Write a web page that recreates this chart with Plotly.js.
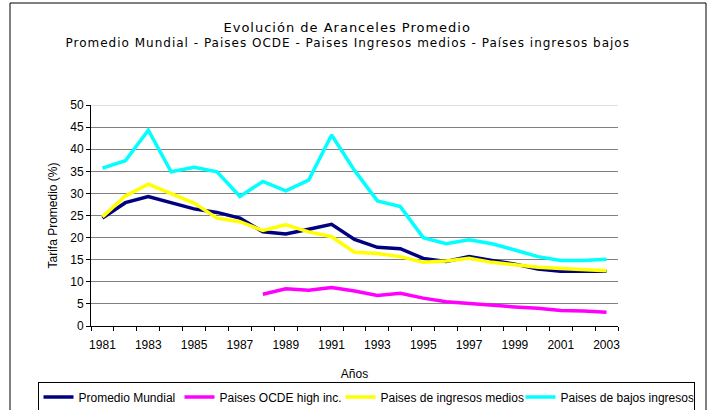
<!DOCTYPE html>
<html>
<head>
<meta charset="utf-8">
<script src="https://cdn.plot.ly/plotly-3.0.1.min.js"></script>
<style>html,body{margin:0;padding:0;background:#fff;}#chart{width:712px;height:410px;}
#chart .annotation-text{letter-spacing:1px;}</style>
</head>
<body>
<div id="chart"></div>
<script>
var years = [1981,1982,1983,1984,1985,1986,1987,1988,1989,1990,1991,1992,1993,1994,1995,1996,1997,1998,1999,2000,2001,2002,2003];
var tickYears = [1981,1983,1985,1987,1989,1991,1993,1995,1997,1999,2001,2003];
var promedioMundial = [24.4,27.9,29.3,27.9,26.5,25.7,24.4,21.3,20.8,21.9,23.0,19.6,17.8,17.5,15.3,14.6,15.7,14.8,14.0,12.9,12.4,12.4,12.4];
var ocdeHigh = [null,null,null,null,null,null,null,7.2,8.4,8.1,8.7,7.9,6.9,7.4,6.3,5.5,5.1,4.6,4.3,4.0,3.5,3.4,3.1];
var ingresosMedios = [24.7,29.4,32.1,30.0,27.8,24.4,23.6,21.6,22.9,21.3,20.2,16.7,16.4,15.7,14.4,14.7,15.3,14.4,13.8,13.3,13.0,12.7,12.5];
var bajosIngresos = [35.7,37.4,44.3,34.9,35.9,34.9,29.3,32.7,30.6,33.0,43.2,35.2,28.3,27.0,20.0,18.6,19.5,18.6,17.2,15.7,14.8,14.8,15.1];

var names = ['Promedio Mundial','Paises OCDE high inc.','Paises de ingresos medios','Paises de bajos ingresos'];
var colors = ['#000080','#ff00ff','#ffff00','#00ffff'];
var series = [promedioMundial, ocdeHigh, ingresosMedios, bajosIngresos];
var legendWidths = [96, 116, 135, 128];

var traces = series.map(function(s,i){
  return {x: years, y: s, name: names[i], type:'scatter', mode:'lines',
          line:{color:colors[i], width:3.5}, connectgaps:false, hoverinfo:'skip',
          legendwidth: legendWidths[i]};
});

var W=712, H=410;
var ML=0, MR=0;           // outer margins (plot "gs" area)
var L=91, R=618, T=105, B=326; // actual axis box
function px(x){return (x-ML)/(W-ML-MR);}
function py(y){return (B-y)/(B-T);}

var layout = {
  width:W, height:H,
  margin:{l:ML, r:MR, t:T, b:H-B, pad:0, autoexpand:false},
  paper_bgcolor:'#ffffff', plot_bgcolor:'#ffffff',
  font:{family:'Liberation Sans, Arial, sans-serif', size:12, color:'#000'},
  showlegend:true,
  xaxis:{
    domain:[px(L), px(R)],
    range:[years[0]-0.5, years[years.length-1]+0.5],
    tickmode:'array', tickvals:tickYears, ticktext:tickYears.map(String),
    ticks:'', showgrid:false, zeroline:false,
    showline:true, linecolor:'#000', linewidth:1,
    ticklabelstandoff:8,
    tickfont:{family:'Liberation Sans, Arial, sans-serif', size:12, color:'#000'},
    minor:{tick0:years[0]-0.5, dtick:1, ticks:'outside', ticklen:4, tickcolor:'#000', showgrid:false},
    title:{text:'Años', font:{family:'Liberation Sans, Arial, sans-serif', size:12, color:'#000'}, standoff:18},
    automargin:false, fixedrange:true
  },
  yaxis:{
    range:[0,50], dtick:5, tick0:0,
    ticks:'outside', ticklen:4, tickcolor:'#000',
    showgrid:true, gridcolor:'#808080', gridwidth:1,
    zeroline:false, showline:true, linecolor:'#000', linewidth:1,
    tickfont:{family:'Liberation Sans, Arial, sans-serif', size:12, color:'#000'},
    title:{text:'Tarifa Promedio (%)', font:{family:'Liberation Sans, Arial, sans-serif', size:12, color:'#000'}, standoff:10},
    automargin:false, fixedrange:true
  },
  legend:{
    orientation:'h', x:px(37.5), xanchor:'left', y:py(381.5), yanchor:'top',
    bordercolor:'#000', borderwidth:1, bgcolor:'#fff',
    font:{family:'Liberation Sans, Arial, sans-serif', size:12, color:'#000'},
    tracegroupgap:0, itemwidth:30
  },
  shapes:[
    {type:'line', xref:'paper', yref:'y', x0:px(L), x1:px(R), y0:50, y1:50, line:{color:'#c0c0c0', width:1}},
    {type:'rect', xref:'paper', yref:'paper', x0:px(10), x1:px(706), y0:py(3), y1:py(414), line:{color:'#000', width:1}, fillcolor:'rgba(0,0,0,0)'}
  ],
  annotations:[
    {text:'Evolución de Aranceles Promedio', xref:'paper', yref:'paper', x:px(347), y:py(28), xanchor:'center', yanchor:'middle', showarrow:false,
     font:{family:'DejaVu Sans, sans-serif', size:13, color:'#000'}},
    {text:'Promedio Mundial - Paises OCDE - Paises Ingresos medios - Países ingresos bajos', xref:'paper', yref:'paper', x:px(347), y:py(43), xanchor:'center', yanchor:'middle', showarrow:false,
     font:{family:'DejaVu Sans, sans-serif', size:12, color:'#000'}}
  ]
};

Plotly.newPlot('chart', traces, layout, {staticPlot:true, displayModeBar:false});
</script>
</body>
</html>
